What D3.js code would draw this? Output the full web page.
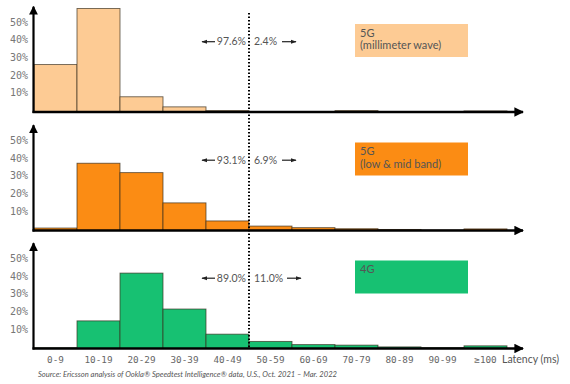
<!DOCTYPE html>
<html>
<head>
<meta charset="utf-8">
<script src="https://cdn.jsdelivr.net/npm/d3@7"></script>
<style>
  body { margin: 0; background: #fff; }
  svg { display: block; }
  .tick-y { font-family: "DejaVu Sans Mono", monospace; font-size: 10px; fill: #777; }
  .tick-x { font-family: "DejaVu Sans Mono", monospace; font-size: 9.3px; fill: #666; }
  .lbl { font-family: Lato, "Open Sans", sans-serif; fill: #555; }
</style>
</head>
<body>
<svg id="chart" width="570" height="384"></svg>
<script>
var bins = ["0-9", "10-19", "20-29", "30-39", "40-49", "50-59", "60-69", "70-79", "80-89", "90-99", "\u2265100"];
var mmWave = [26.8, 58.5, 8.6, 2.9, 0.8, 0.3, 0.2, 0.8, 0.2, 0.3, 0.6];
var lowMid = [1.4, 38.0, 32.7, 15.6, 5.4, 2.5, 1.6, 1.0, 0.6, 0.3, 0.9];
var lte = [0.4, 15.6, 42.6, 22.3, 8.1, 4.0, 2.2, 1.9, 0.9, 0.5, 1.5];
var seriesNames = [["5G", "(millimeter wave)"], ["5G", "(low & mid band)"], ["4G"]];
var below50 = ["97.6%", "93.1%", "89.0%"];
var above50 = ["2.4%", "6.9%", "11.0%"];
var yTicks = [10, 20, 30, 40, 50];
var colors = ["#fdcb94", "#fb8c14", "#17c172"];

var series = [mmWave, lowMid, lte];
var baselines = [112, 230.5, 348.5];
var pxPerPct = 1.77;

var svg = d3.select("#chart");

var defs = svg.append("defs");
defs.append("marker").attr("id", "head")
    .attr("viewBox", "0 0 10 10").attr("refX", 9).attr("refY", 5)
    .attr("markerWidth", 4).attr("markerHeight", 4).attr("orient", "auto")
    .append("path").attr("d", "M0,0 L10,5 L0,10 Z").attr("fill", "#000");
defs.append("marker").attr("id", "small")
    .attr("viewBox", "0 0 10 10").attr("refX", 9).attr("refY", 5)
    .attr("markerWidth", 5).attr("markerHeight", 5).attr("orient", "auto")
    .append("path").attr("d", "M0,1.5 L10,5 L0,8.5 Z").attr("fill", "#222");

var x = d3.scaleBand().domain(bins).range([34, 507]).padding(0);
var splitX = x(bins[5]);

series.forEach(function(data, p) {
    var b = baselines[p];
    var y = d3.scaleLinear().domain([0, 60]).range([b, b - 60 * pxPerPct]);
    var g = svg.append("g");

    g.selectAll("rect.bar").data(data).enter().append("rect")
        .attr("class", "bar")
        .attr("x", function(d, i) { return x(bins[i]); })
        .attr("y", function(d) { return y(d); })
        .attr("width", x.bandwidth())
        .attr("height", function(d) { return y(0) - y(d); })
        .attr("fill", colors[p])
        .attr("stroke", "#3a3020").attr("stroke-opacity", 0.75).attr("stroke-width", 0.9);

    // y tick labels
    g.selectAll("text.tick-y").data(yTicks).enter().append("text")
        .attr("class", "tick-y")
        .attr("x", 28).attr("y", function(d) { return y(d) - 1.5; })
        .attr("dy", "0.35em").attr("text-anchor", "end")
        .text(function(d) { return d + "%"; });

    // axes
    g.append("line").attr("x1", 33.5).attr("x2", 33.5)
        .attr("y1", b + 1).attr("y2", y(59.5))
        .attr("stroke", "#000").attr("stroke-width", 2.2).attr("marker-end", "url(#head)");
    g.append("line").attr("x1", 32.5).attr("x2", 523)
        .attr("y1", b).attr("y2", b)
        .attr("stroke", "#000").attr("stroke-width", 2.4).attr("marker-end", "url(#head)");

    // split annotation
    var ay = y(40) + 0.5;
    g.append("line").attr("x1", 215).attr("x2", 202).attr("y1", ay).attr("y2", ay)
        .attr("stroke", "#222").attr("stroke-width", 1.2).attr("marker-end", "url(#small)");
    g.append("text").attr("class", "lbl").attr("font-size", 10.5)
        .attr("x", 246).attr("y", ay).attr("dy", "0.35em").attr("text-anchor", "end")
        .text(below50[p]);
    g.append("text").attr("class", "lbl").attr("font-size", 10.5)
        .attr("x", 254).attr("y", ay).attr("dy", "0.35em")
        .text(above50[p]);
    var ax0 = p === 2 ? 287 : 282;
    g.append("line").attr("x1", ax0).attr("x2", ax0 + 14).attr("y1", ay).attr("y2", ay)
        .attr("stroke", "#222").attr("stroke-width", 1.2).attr("marker-end", "url(#small)");

    // legend box
    var top = b - 88;
    g.append("rect").attr("x", 355).attr("y", top).attr("width", 113).attr("height", 33)
        .attr("fill", colors[p]);
    g.selectAll("text.name").data(seriesNames[p]).enter().append("text")
        .attr("class", "lbl name").attr("font-size", 11)
        .attr("x", 360).attr("y", function(d, i) { return top + 12.5 + i * 12.5; })
        .text(function(d) { return d; });
});

// dotted split line
svg.append("line").attr("x1", splitX).attr("x2", splitX)
    .attr("y1", 13).attr("y2", 349)
    .attr("stroke", "#000").attr("stroke-width", 2).attr("stroke-dasharray", "1.5,2");

// x labels
svg.selectAll("text.tick-x").data(bins).enter().append("text")
    .attr("class", "tick-x")
    .attr("x", function(d) { return x(d) + x.bandwidth() / 2; })
    .attr("y", 363).attr("text-anchor", "middle")
    .text(function(d) { return d; });

svg.append("text").attr("class", "lbl").attr("font-size", 10.5)
    .attr("x", 502).attr("y", 363).text("Latency (ms)");

svg.append("text").attr("class", "lbl").attr("font-size", 7.6).attr("font-style", "italic")
    .attr("fill", "#777").attr("x", 38).attr("y", 377)
    .text("Source: Ericsson analysis of Ookla\u00ae Speedtest Intelligence\u00ae data, U.S., Oct. 2021 \u2013 Mar. 2022");
</script>
</body>
</html>
